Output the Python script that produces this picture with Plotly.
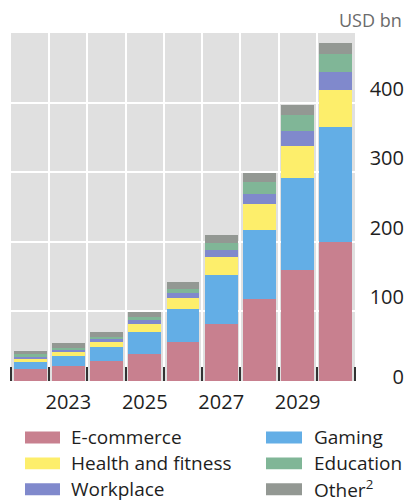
import plotly.graph_objects as go

# Market size by segment, USD bn
years = [2022, 2023, 2024, 2025, 2026, 2027, 2028, 2029, 2030]
ecommerce = [17.4, 21.0, 28.3, 39.3, 56.5, 82.2, 117.9, 159.4, 200.0]
gaming = [9.6, 14.5, 20.0, 30.5, 47.1, 70.1, 99.7, 132.0, 164.3]
health = [5.8, 6.2, 8.2, 11.9, 15.8, 25.3, 36.2, 46.6, 53.7]
workplace = [2.8, 2.3, 3.8, 6.2, 7.6, 10.4, 14.2, 21.5, 26.3]
education = [2.6, 3.0, 3.3, 3.8, 5.7, 10.4, 17.6, 22.5, 25.7]
other = [5.5, 7.6, 7.2, 7.2, 10.0, 11.5, 12.9, 14.7, 15.8]

x_tick_years = [2023, 2025, 2027, 2029]
y_ticks = [100, 200, 300, 400]
y_base_tick = [0]

series = [
    ("E-commerce", ecommerce, "#c8808f"),
    ("Gaming", gaming, "#63aee6"),
    ("Health and fitness", health, "#fdee6b"),
    ("Workplace", workplace, "#8089cc"),
    ("Education", education, "#80b697"),
    ("Other<sup>2</sup>", other, "#939893"),
]

W, H = 406, 503
ML, MR, MT, MB = 11, 2, 33, 121.5
PW = W - ML - MR
PH = H - MT - MB
PLOT_W = 344

FONT = "Open Sans"
DARK = "#1e1e1e"


def px(x):
    return (x - ML) / PW


def py(y):
    return (H - MB - y) / PH


fig = go.Figure()
for name, vals, color in series:
    fig.add_trace(go.Bar(x=years, y=vals, name=name, marker_color=color,
                         marker_line_width=0, showlegend=False))

# empty trace so the secondary axis (carrying the "0" label) is drawn
fig.add_trace(go.Scatter(x=[], y=[], yaxis="y2", showlegend=False,
                         hoverinfo="skip"))

# Bottom legend, two columns
legend_order = [0, 1, 2, 4, 3, 5]
cols = [(25, 60, 69), (266, 302, 312)]
rows = [438, 464, 490]
for i, idx in enumerate(legend_order):
    name, _, color = series[idx]
    x0, x1, xt = cols[i % 2]
    yc = rows[i // 2]
    fig.add_shape(type="rect", xref="paper", yref="paper",
                  x0=px(x0), x1=px(x1), y0=py(yc + 6), y1=py(yc - 6),
                  fillcolor=color, line_width=0)
    fig.add_annotation(xref="paper", yref="paper", x=px(xt), y=py(yc),
                       text=name, showarrow=False, xanchor="left",
                       yanchor="middle", font=dict(family=FONT, size=19, color=DARK))

fig.add_annotation(xref="paper", yref="paper", x=1, y=py(20), text="USD bn",
                   showarrow=False, xanchor="right", yanchor="middle",
                   font=dict(family=FONT, size=18, color="#6b6b6b"))

fig.update_layout(
    width=W, height=H,
    margin=dict(l=ML, r=MR, t=MT, b=MB, pad=0),
    barmode="stack", bargap=0.14,
    plot_bgcolor="#e0e0e0", paper_bgcolor="white",
    font=dict(family=FONT, size=20, color=DARK),
    xaxis=dict(
        domain=[0, PLOT_W / PW], automargin=False,
        range=[2021.5, 2030.5],
        tickmode="array", tickvals=x_tick_years,
        ticktext=[str(v) for v in x_tick_years],
        ticks="", showgrid=False, zeroline=False, showline=False,
        ticklabelstandoff=7,
        tickfont=dict(family=FONT, size=20, color=DARK),
        minor=dict(tickmode="linear", tick0=2021.5, dtick=1,
                   ticks="inside", ticklen=14, tickwidth=2, tickcolor="#333333",
                   showgrid=True, gridcolor="white", gridwidth=2),
    ),
    yaxis=dict(
        range=[0, 500], anchor="free", position=1, side="left",
        automargin=False,
        tickmode="array", tickvals=y_ticks, ticks="",
        ticklabelposition="outside top",
        showgrid=True, gridcolor="white", gridwidth=2,
        zeroline=False, showline=False,
        tickfont=dict(family=FONT, size=20, color=DARK),
    ),
    yaxis2=dict(
        range=[0, 500], overlaying="y", anchor="free", position=1, side="left",
        automargin=False,
        tickmode="array", tickvals=y_base_tick, ticks="", showgrid=False,
        zeroline=False, showline=False, ticklabelshift=-4,
        tickfont=dict(family=FONT, size=20, color=DARK),
    ),
)

fig.write_html("out.html")
